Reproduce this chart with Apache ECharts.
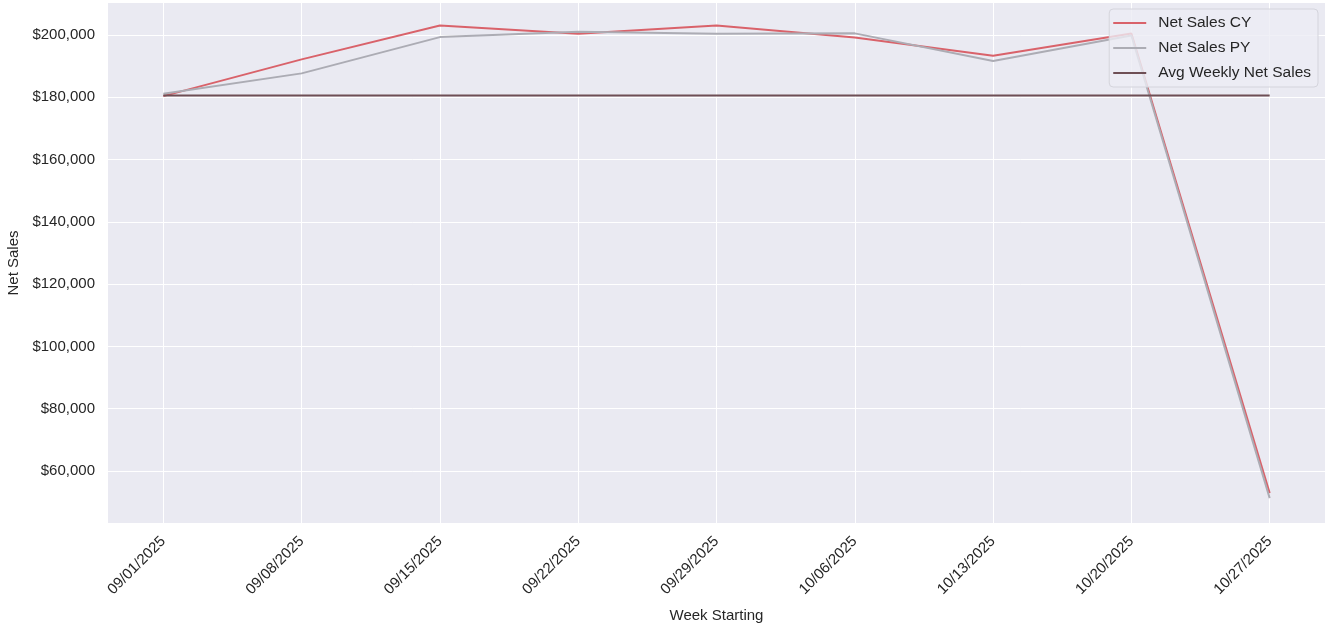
<!DOCTYPE html>
<html>
<head>
<meta charset="utf-8">
<script src="https://cdn.jsdelivr.net/npm/echarts@6/dist/echarts.min.js"></script>
<style>
html,body{margin:0;padding:0;background:#fff;}
#chart{width:1326px;height:627px;}
</style>
</head>
<body>
<div id="chart"></div>
<script>
const weeks = ['09/01/2025','09/08/2025','09/15/2025','09/22/2025','09/29/2025','10/06/2025','10/13/2025','10/20/2025','10/27/2025'];
const netSalesCY = [180400, 192200, 203100, 200400, 203100, 199250, 193350, 200500, 52900];
const netSalesPY = [181150, 187700, 199350, 201100, 200400, 200550, 191650, 199850, 51300];
const avgWeekly = 180580;
const yTicks = [60000, 80000, 100000, 120000, 140000, 160000, 180000, 200000];

const toPts = arr => arr.map((v, i) => [i, v]);
const xIdx = weeks.map((w, i) => i);
const font = 'Liberation Sans, Arial, sans-serif';
const txt = '#262626';

const chart = echarts.init(document.getElementById('chart'));
chart.setOption({
  animation: false,
  backgroundColor: '#ffffff',
  grid: {left: 108, right: 1, top: 3, bottom: 104, backgroundColor: '#eaeaf2', show: true, borderWidth: 0,
    containLabel: false, outerBoundsMode: 'none'},
  legend: {
    orient: 'vertical', right: 8, top: 9,
    backgroundColor: 'rgba(236,236,244,0.8)', borderColor: '#d4d4dc', borderWidth: 1, borderRadius: 4,
    padding: [6, 7, 6, 4],
    itemWidth: 33, itemHeight: 2, itemGap: 9, icon: 'rect',
    textStyle: {fontFamily: font, fontSize: 15.5, color: txt, padding: [0, 0, 0, 7]},
    data: ['Net Sales CY', 'Net Sales PY', 'Avg Weekly Net Sales']
  },
  xAxis: {
    type: 'value', min: -0.4, max: 8.4,
    name: 'Week Starting', nameLocation: 'middle', nameGap: 85,
    nameTextStyle: {fontFamily: font, fontSize: 15, color: txt},
    axisLine: {show: false},
    axisTick: {show: false, customValues: xIdx},
    splitLine: {show: true, lineStyle: {color: '#ffffff', width: 1}},
    axisLabel: {customValues: xIdx, rotate: 45, margin: 16, fontFamily: font, fontSize: 15, color: txt,
      formatter: v => weeks[Math.round(v)] || ''}
  },
  yAxis: {
    type: 'value', min: 43300, max: 210300,
    name: 'Net Sales', nameLocation: 'middle', nameGap: 86,
    nameTextStyle: {fontFamily: font, fontSize: 15, color: txt},
    axisLine: {show: false},
    axisTick: {show: false, customValues: yTicks},
    splitLine: {show: true, lineStyle: {color: '#ffffff', width: 1}},
    axisLabel: {customValues: yTicks, margin: 13, fontFamily: font, fontSize: 15, color: txt,
      formatter: v => '$' + v.toLocaleString('en-US')}
  },
  series: [
    {name: 'Net Sales CY', type: 'line', data: toPts(netSalesCY), showSymbol: false, symbol: 'none',
      lineStyle: {color: '#d9626a', width: 2}, itemStyle: {color: '#d9626a'}},
    {name: 'Net Sales PY', type: 'line', data: toPts(netSalesPY), showSymbol: false, symbol: 'none',
      lineStyle: {color: '#acacb4', width: 2}, itemStyle: {color: '#acacb4'}},
    {name: 'Avg Weekly Net Sales', type: 'line', data: toPts(weeks.map(() => avgWeekly)), showSymbol: false, symbol: 'none',
      lineStyle: {color: '#6e4f55', width: 2}, itemStyle: {color: '#6e4f55'}}
  ]
});
</script>
</body>
</html>
